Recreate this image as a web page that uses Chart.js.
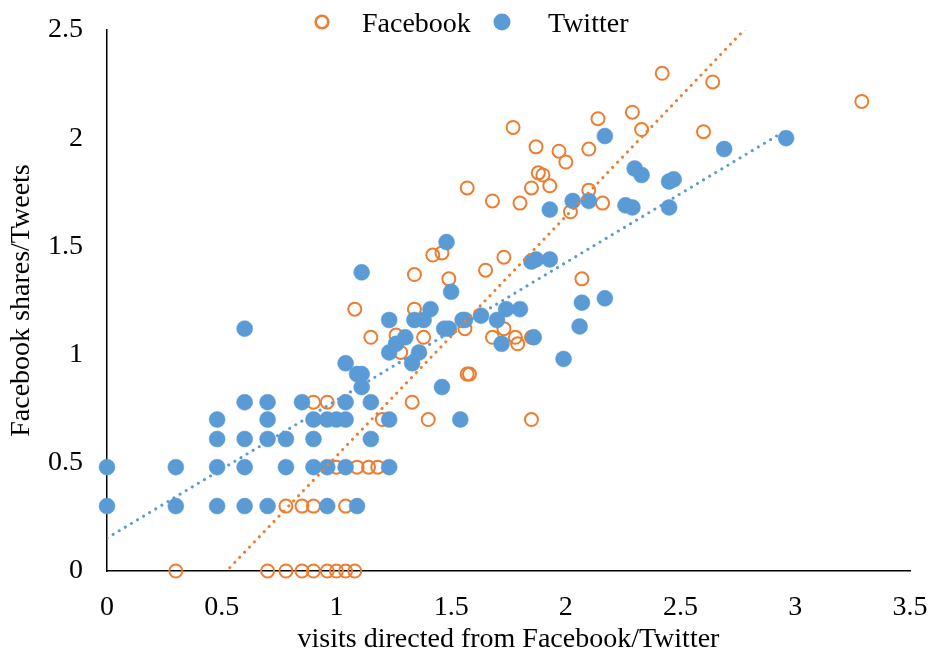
<!DOCTYPE html>
<html>
<head>
<meta charset="utf-8">
<script src="https://cdn.jsdelivr.net/npm/chart.js@4.4.1/dist/chart.umd.min.js"></script>
<style>
html,body{margin:0;padding:0;background:#fff}
#wrap{width:933px;height:664px;position:relative}
</style>
</head>
<body>
<div id="wrap"><canvas id="scatter" width="933" height="664"></canvas></div>
<script>
// ── data ──
const FB_X=[0.30,0.70,0.78,0.85,0.90,0.96,1.00,1.04,1.08,
  0.78,0.85,0.90,1.04,0.90,0.96,1.00,1.09,1.14,1.18,
  1.20,1.40,1.85,1.33,1.57,1.58,1.28,1.15,1.26,1.38,1.56,
  1.68,1.73,1.78,1.79,1.85,1.08,1.34,1.34,1.49,1.65,
  1.73,1.42,1.46,1.93,2.07,2.02,1.57,1.68,1.80,1.85,
  1.93,1.88,1.90,2.10,2.16,1.77,1.87,1.97,2.00,2.10,
  2.14,2.29,2.33,2.42,2.64,2.60,3.29];
const FB_Y=[0,0,0,0,0,0,0,0,0,
  0.30,0.30,0.30,0.30,0.78,0.78,0.48,0.48,0.48,0.48,
  0.70,0.70,0.70,0.78,0.91,0.91,1.01,1.08,1.09,1.08,1.12,
  1.08,1.12,1.08,1.05,1.08,1.21,1.21,1.37,1.35,1.39,
  1.45,1.46,1.47,1.44,1.35,1.66,1.77,1.71,1.70,1.77,
  1.78,1.84,1.83,1.76,1.70,2.05,1.96,1.94,1.89,1.95,
  2.09,2.12,2.04,2.30,2.26,2.03,2.17];

const TW_X=[0.00,0.00,0.30,0.30,0.48,0.48,0.48,0.48,0.60,0.60,
  0.60,0.60,0.60,0.70,0.70,0.70,0.70,0.78,0.78,0.85,
  0.90,0.96,1.00,1.04,0.90,0.90,0.96,1.04,0.96,1.09,
  1.04,1.11,1.09,1.11,1.11,1.04,1.15,1.15,1.23,1.23,
  1.23,1.23,1.26,1.30,1.33,1.36,1.34,1.38,1.41,1.46,
  1.47,1.49,1.50,1.48,1.54,1.55,1.56,1.63,1.70,1.72,
  1.74,1.80,1.85,1.87,1.86,1.93,1.93,1.99,2.03,2.06,
  2.07,2.10,2.17,2.17,2.26,2.29,2.30,2.33,2.45,2.47,
  2.45,2.69,2.96];
const TW_Y=[0.48,0.30,0.48,0.30,0.70,0.61,0.48,0.30,1.12,0.78,
  0.61,0.48,0.30,0.78,0.70,0.61,0.30,0.61,0.48,0.78,
  0.70,0.70,0.70,0.70,0.61,0.48,0.48,0.48,0.30,0.30,
  0.96,1.38,0.91,0.91,0.85,0.78,0.78,0.61,0.70,0.48,
  1.16,1.01,1.05,1.08,0.96,1.01,1.16,1.16,1.21,0.85,
  1.12,1.12,1.29,1.52,0.70,1.16,1.16,1.18,1.16,1.05,
  1.21,1.21,1.43,1.44,1.08,1.44,1.67,0.98,1.71,1.13,
  1.24,1.71,2.01,1.26,1.69,1.68,1.86,1.83,1.80,1.81,
  1.68,1.95,2.00];

const SERIES=["Facebook","Twitter"];
const X_TITLE="visits directed from Facebook/Twitter";
const Y_TITLE="Facebook shares/Tweets";

const C_FB="#ED7D31",C_TW="#5B9BD5";
const FONT="'Liberation Serif','Times New Roman',serif";
const FS=28;

const pts=(xs,ys)=>xs.map((x,i)=>({x,y:ys[i]}));
// least-squares trendline over the series' x range
function trend(xs,ys){
  const n=xs.length,mx=xs.reduce((s,v)=>s+v,0)/n,my=ys.reduce((s,v)=>s+v,0)/n;
  let sxy=0,sxx=0;
  xs.forEach((x,i)=>{sxy+=(x-mx)*(ys[i]-my);sxx+=(x-mx)*(x-mx);});
  const b=sxy/sxx,a=my-b*mx,lo=Math.min(...xs),hi=Math.max(...xs);
  return [{x:lo,y:a+b*lo},{x:hi,y:a+b*hi}];
}

// legend on the top strip
const topLegend={id:"topLegend",afterDraw(chart){
  const c=chart.ctx;c.save();
  c.font=`${FS}px ${FONT}`;c.textBaseline="alphabetic";
  const y=22;
  c.beginPath();c.arc(322,y,6.3,0,Math.PI*2);c.strokeStyle=C_FB;c.lineWidth=2.6;c.stroke();
  c.fillStyle="#000";c.fillText(SERIES[0],362,y+10);
  c.beginPath();c.arc(502,y,8.5,0,Math.PI*2);c.fillStyle=C_TW;c.fill();
  c.fillStyle="#000";c.fillText(SERIES[1],548,y+10);
  c.restore();
}};

const dotted={borderWidth:3,borderDash:[0.1,7],borderCapStyle:"round",pointRadius:0,showLine:true,fill:false};
const tickFmt=v=>String(v);
// let edge labels hang into the padding instead of shrinking the plot
const noEdgePad=s=>{s.paddingTop=0;s.paddingBottom=0;s.paddingLeft=0;s.paddingRight=0;};

new Chart(document.getElementById("scatter"),{
  type:"scatter",
  data:{datasets:[
    {label:SERIES[0]+" trend",data:trend(FB_X,FB_Y),borderColor:C_FB,order:1,...dotted},
    {label:SERIES[1]+" trend",data:trend(TW_X,TW_Y),borderColor:C_TW,order:1,...dotted},
    {label:SERIES[1],data:pts(TW_X,TW_Y),pointRadius:8,pointBackgroundColor:C_TW,pointBorderColor:C_TW,pointBorderWidth:0.5,order:2,clip:false},
    {label:SERIES[0],data:pts(FB_X,FB_Y),pointRadius:6.5,pointBackgroundColor:"rgba(255,255,255,0)",pointBorderColor:C_FB,pointBorderWidth:2,order:3,clip:false}
  ]},
  options:{
    responsive:false,animation:false,
    layout:{padding:{top:30,right:23,left:0,bottom:0}},
    plugins:{legend:{display:false},tooltip:{enabled:false}},
    scales:{
      x:{type:"linear",min:0,max:3.5,
        ticks:{stepSize:0.5,color:"#000",font:{family:FONT,size:FS},padding:20,callback:tickFmt},
        grid:{display:false,drawTicks:false},border:{display:true,color:"#000",width:1.5},
        title:{display:true,text:X_TITLE,color:"#000",font:{family:FONT,size:FS},padding:{top:0,bottom:8}},
        afterFit:s=>{s.height=93;noEdgePad(s);}},
      y:{type:"linear",min:0,max:2.5,
        ticks:{stepSize:0.5,color:"#000",font:{family:FONT,size:FS},padding:24,callback:tickFmt},
        grid:{display:false,drawTicks:false},border:{display:true,color:"#000",width:1.5},
        title:{display:true,text:Y_TITLE,color:"#000",font:{family:FONT,size:FS},padding:{top:5,bottom:0}},
        afterFit:s=>{s.width=107;noEdgePad(s);}}
    }
  },
  plugins:[topLegend]
});
</script>
</body>
</html>
